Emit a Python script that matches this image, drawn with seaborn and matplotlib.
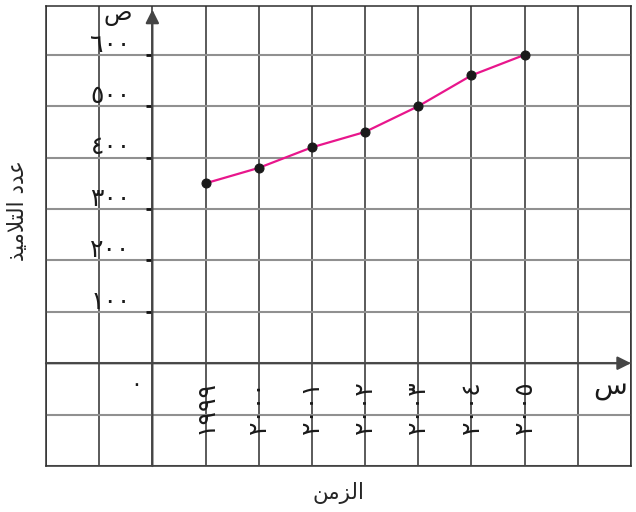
import numpy as np
import pandas as pd
import seaborn as sns
import matplotlib.pyplot as plt

# data
years = [1999, 2000, 2001, 2002, 2003, 2004, 2005]
students = [350, 380, 420, 450, 500, 560, 600]
year_labels = ["١٩٩٩", "٢٠٠٠", "٢٠٠١", "٢٠٠٢", "٢٠٠٣", "٢٠٠٤", "٢٠٠٥"]
y_ticks = [100, 200, 300, 400, 500, 600]
y_labels = ["١٠٠", "٢٠٠", "٣٠٠", "٤٠٠", "٥٠٠", "٦٠٠"]

# arabic words written in visual (shaped, left-to-right) order since matplotlib does no shaping
x_title = "\uFEE6\uFEE3\uFEB0\uFEDF\uFE8D"  # الزمن
y_title = "\uFEAC\uFEF4\uFEE3\uFEFC\uFE98\uFEDF\uFE8D \uFEA9\uFEAA\uFECB"  # عدد التلاميذ

df = pd.DataFrame({"pos": [y - years[0] + 1 for y in years], "students": students})

sns.set_style("white")
plt.rcParams['font.family'] = ['DejaVu Sans']

fig = plt.figure(figsize=(6.36, 5.12), dpi=100)
ax = fig.add_axes([46 / 636, 46 / 512, 585 / 636, 460 / 512])

ax.set_xlim(-2, 9)
ax.set_ylim(-200, 695)
ax.set_xticks(range(-2, 10))
ax.set_yticks(range(-200, 700, 100))
ax.tick_params(length=0, labelbottom=False, labelleft=False)
ax.xaxis.grid(True, color='#2e2e2e', lw=1.1)
ax.yaxis.grid(True, color='#909090', lw=1.5)
ax.set_axisbelow(True)
for s in ax.spines.values():
    s.set_color('#2e2e2e')
    s.set_linewidth(1.1)

# axes with arrows
ax.annotate('', xy=(0, 688), xytext=(0, -200), annotation_clip=False,
            arrowprops=dict(arrowstyle='-|>', color='#454545', lw=1.6, mutation_scale=20, shrinkA=0, shrinkB=0))
ax.annotate('', xy=(9, 0), xytext=(-2, 0), annotation_clip=False,
            arrowprops=dict(arrowstyle='-|>', color='#454545', lw=1.6, mutation_scale=20, shrinkA=0, shrinkB=0))
ax.plot(np.zeros(len(y_ticks)), y_ticks, ls='none', marker=0, ms=4, mew=2, color='#111111')

sns.lineplot(data=df, x="pos", y="students", ax=ax, color='#e8168c', lw=1.6,
             marker='o', markersize=6.5, markerfacecolor='#1a1a1a', markeredgecolor='#1a1a1a')
ax.set_xlabel("")
ax.set_ylabel("")

# tick labels
for v, lab in zip(y_ticks, y_labels):
    ax.text(-0.41, v + 20, lab, ha='right', va='center', fontsize=18, color='#1a1a1a')
for p, lab in zip(df["pos"], year_labels):
    ax.text(p, -85, lab, rotation=90, ha='center', va='center', fontsize=18, color='#1a1a1a')
ax.text(-0.3, -42, "٠", ha='center', va='center', fontsize=16, color='#1a1a1a')
ax.text(-0.65, 680, "ص", ha='center', va='center', fontsize=17, color='#1a1a1a')
ax.text(8.6, -45, "س", ha='center', va='center', fontsize=20, color='#1a1a1a')

ax.text(0.5, -0.059, x_title, transform=ax.transAxes, ha='center', va='center', fontsize=15.5)
ax.text(-0.048, 0.556, y_title, transform=ax.transAxes, rotation=90, ha='center', va='center', fontsize=15.5)

plt.savefig("out.png", dpi=100)
